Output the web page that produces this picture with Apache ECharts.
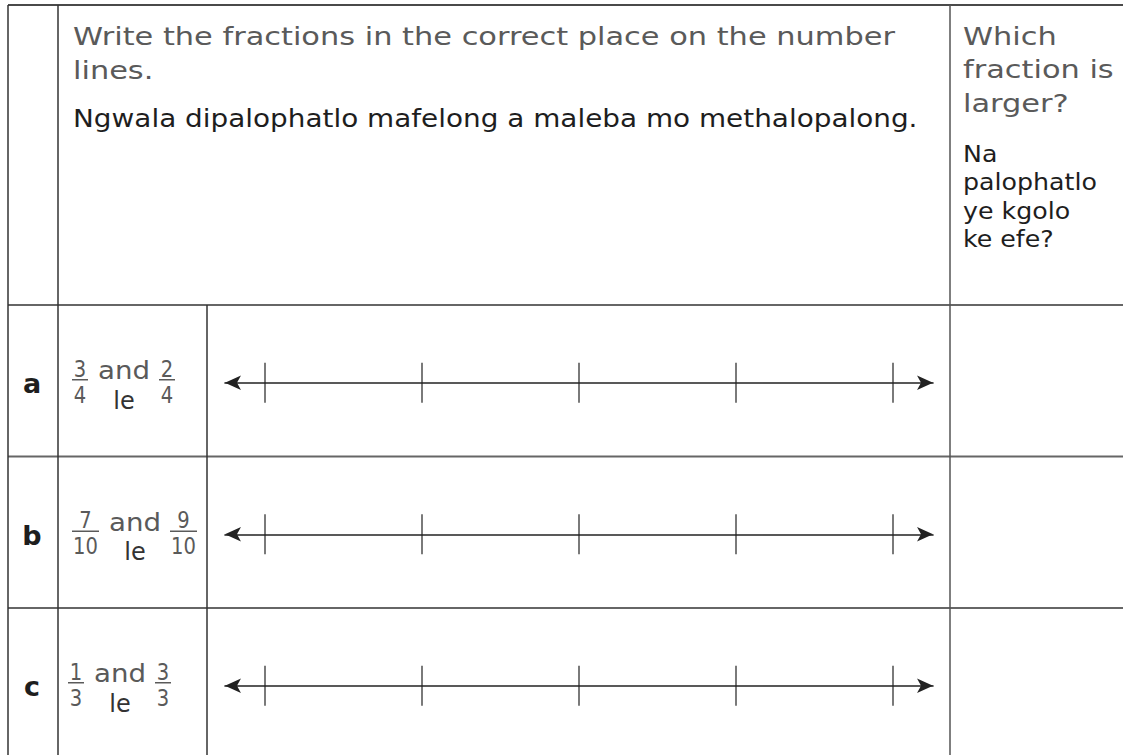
<!DOCTYPE html>
<html>
<head>
<meta charset="utf-8">
<script src="https://cdn.jsdelivr.net/npm/echarts@6/dist/echarts.min.js"></script>
<style>
html,body{margin:0;padding:0;background:#fff;}
#chart{width:1123px;height:755px;}
</style>
</head>
<body>
<div id="chart"></div>
<script>
// ---- data ----
var headerEnglish = ['Write the fractions in the correct place on the number', 'lines.'];
var headerSotho = ['Ngwala dipalophatlo mafelong a maleba mo methalopalong.'];
var sideEnglish = ['Which', 'fraction is', 'larger?'];
var sideSotho = ['Na', 'palophatlo', 'ye kgolo', 'ke efe?'];
var rowLabels = ['a', 'b', 'c'];
var firstFractions = [['3', '4'], ['7', '10'], ['1', '3']];
var secondFractions = [['2', '4'], ['9', '10'], ['3', '3']];
var joinEnglish = 'and';
var joinSotho = 'le';
var tickValues = [0, 1, 2, 3, 4];

// ---- layout ----
var W = 1123, H = 755;
var FONT = '"DejaVu Sans", "Noto Sans", sans-serif';
var GREY = '#5a5a5a', BLACK = '#1e1e1e', LINE = '#4a4a4a';
var xLeft = 8, xLabel = 58, xFrac = 207, xSide = 950;
var yTop = 5, yHead = 305, rowH = 151.5;
var axisPxLeft = 265, axisPxRight = 893; // pixel positions of first and last tick
var pad = 0.255;

var ctx = document.createElement('canvas').getContext('2d');
function measure(s, font) { ctx.font = font; return ctx.measureText(s).width; }
function fontStr(size, weight) { return (weight || 'normal') + ' ' + size + 'px ' + FONT; }

var HEAD_SIZE = 25, SIDE_SOTHO_SIZE = 23;
// horizontal stretch so the glyph widths match the wide school font of the original
var greyScale = 822 / measure(headerEnglish[0], fontStr(HEAD_SIZE));
var blackScale = 845 / measure(headerSotho[0], fontStr(HEAD_SIZE));
var sideBlackScale = 134 / measure('palophatlo', fontStr(SIDE_SOTHO_SIZE));

var chart = echarts.init(document.getElementById('chart'), null, {renderer: 'svg'});

var graphics = [];
function hline(y, x1, x2, color, w) {
  graphics.push({type: 'line', shape: {x1: x1, y1: y, x2: x2, y2: y}, style: {stroke: color, lineWidth: w}, silent: true});
}
function vline(x, y1, y2, color, w) {
  graphics.push({type: 'line', shape: {x1: x, y1: y1, x2: x, y2: y2}, style: {stroke: color, lineWidth: w}, silent: true});
}
function txt(s, x, y, size, color, align, weight, sx) {
  graphics.push({type: 'text', silent: true, x: x, y: y, scaleX: sx || 1, style: {
    text: s, x: 0, y: 0, fill: color, align: align || 'left', verticalAlign: 'middle',
    font: fontStr(size, weight)
  }});
}

// table lines
hline(yTop, xLeft, W, LINE, 2);
hline(yHead, xLeft, W, '#666', 2);
hline(yHead + rowH, xLeft, W, '#666', 2);
hline(yHead + 2 * rowH, xLeft, W, '#666', 2);
vline(xLeft, yTop, H, '#333', 1.5);
vline(xLabel, yTop, H, '#333', 1.5);
vline(xFrac, yHead, H, '#333', 1.5);
vline(xSide, yTop, H, '#555', 1.5);

// header text
headerEnglish.forEach(function (s, i) { txt(s, 73, 36 + i * 34, HEAD_SIZE, GREY, 'left', 'normal', greyScale); });
headerSotho.forEach(function (s, i) { txt(s, 73, 118 + i * 30, HEAD_SIZE, BLACK, 'left', 'normal', blackScale); });
sideEnglish.forEach(function (s, i) { txt(s, 963, 36 + i * 33.5, HEAD_SIZE, GREY, 'left', 'normal', greyScale); });
sideSotho.forEach(function (s, i) { txt(s, 963, 154 + i * 28.5, SIDE_SOTHO_SIZE, BLACK, 'left', 'normal', sideBlackScale); });

// rows
var grids = [], xAxes = [], yAxes = [], series = [];
rowLabels.forEach(function (lab, i) {
  var cy = yHead + rowH * i + rowH / 2 + 2;
  txt(lab, 32, cy + 1, 27, BLACK, 'center', 'bold');

  // fractions
  function frac(f, left) {
    var digits = Math.max(f[0].length, f[1].length);
    var w = digits * 11 + 5;
    var cx = left + w / 2;
    txt(f[0], cx, cy - 14, 23, GREY, 'center', 'normal', 0.85);
    graphics.push({type: 'line', silent: true, shape: {x1: left, y1: cy - 3, x2: left + w, y2: cy - 3}, style: {stroke: GREY, lineWidth: 1.5}});
    txt(f[1], cx, cy + 12, 23, GREY, 'center', 'normal', 0.85);
    return left + w;
  }
  var r1 = frac(firstFractions[i], i === 2 ? 68 : 72);
  var andC = r1 + 10 + 26;
  txt(joinEnglish, andC, cy - 12, 24, GREY, 'center', 'normal', 52 / measure(joinEnglish, fontStr(24)));
  txt(joinSotho, andC, cy + 18, 24, '#333', 'center');
  frac(secondFractions[i], andC + 26 + 9);

  // number line
  var unit = (axisPxRight - axisPxLeft) / (tickValues[tickValues.length - 1] - tickValues[0]);
  grids.push({left: axisPxLeft - pad * unit, width: (axisPxRight - axisPxLeft) + 2 * pad * unit, top: cy - 20, height: 40});
  xAxes.push({
    type: 'value', gridIndex: i, min: tickValues[0] - pad, max: tickValues[tickValues.length - 1] + pad,
    axisLine: {show: true, onZero: true, symbol: ['arrow', 'arrow'], symbolSize: [11, 16], lineStyle: {color: '#222', width: 1.5}},
    axisTick: {show: false}, axisLabel: {show: false}, splitLine: {show: false}
  });
  yAxes.push({type: 'value', gridIndex: i, min: -1, max: 1, show: false});
  series.push({
    type: 'scatter', xAxisIndex: i, yAxisIndex: i, silent: true,
    symbol: 'rect', symbolSize: [1.5, 40],
    itemStyle: {color: '#222'},
    data: tickValues.map(function (v) { return [v, 0]; })
  });
});

chart.setOption({
  animation: false,
  backgroundColor: '#fff',
  grid: grids,
  xAxis: xAxes,
  yAxis: yAxes,
  series: series,
  graphic: graphics
});
</script>
</body>
</html>
